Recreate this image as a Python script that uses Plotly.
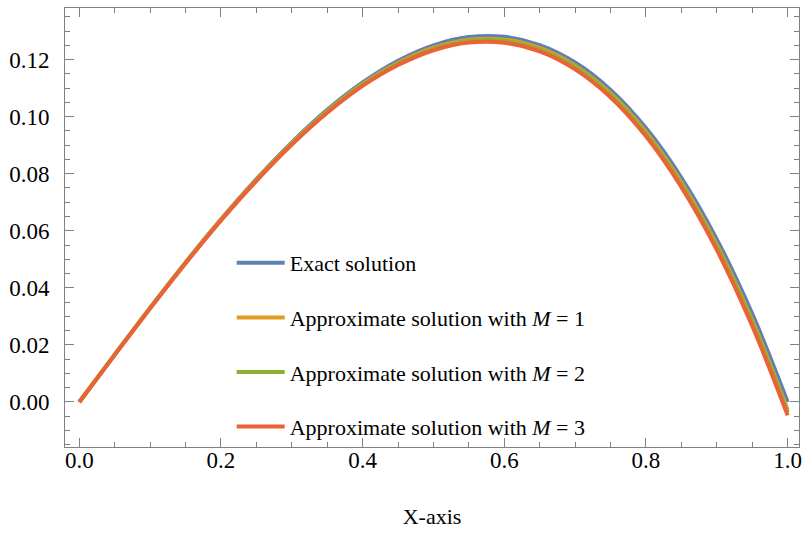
import plotly.graph_objects as go

x_vals = [0.00, 0.05, 0.10, 0.15, 0.20, 0.25, 0.30, 0.35, 0.40, 0.45, 0.50,
          0.55, 0.60, 0.65, 0.70, 0.75, 0.80, 0.85, 0.90, 0.95, 1.00]
exact = [0.0000, 0.0166, 0.0330, 0.0489, 0.0640, 0.0781, 0.0910, 0.1024, 0.1120, 0.1196, 0.1250,
         0.1279, 0.1280, 0.1251, 0.1190, 0.1094, 0.0960, 0.0786, 0.0570, 0.0309, 0.0000]
approx_m1 = [0.0000, 0.0166, 0.0329, 0.0488, 0.0639, 0.0779, 0.0907, 0.1020, 0.1115, 0.1189, 0.1242,
             0.1270, 0.1270, 0.1241, 0.1179, 0.1082, 0.0946, 0.0770, 0.0551, 0.0286, -0.0028]
approx_m2 = [0.0000, 0.0166, 0.0329, 0.0487, 0.0638, 0.0777, 0.0905, 0.1018, 0.1112, 0.1186, 0.1238,
             0.1266, 0.1266, 0.1236, 0.1174, 0.1077, 0.0940, 0.0764, 0.0545, 0.0279, -0.0036]
approx_m3 = [0.0000, 0.0165, 0.0328, 0.0486, 0.0636, 0.0775, 0.0902, 0.1014, 0.1108, 0.1181, 0.1233,
             0.1260, 0.1259, 0.1229, 0.1166, 0.1068, 0.0931, 0.0753, 0.0533, 0.0266, -0.0047]

names = ["Exact solution",
         "Approximate solution with <i>M</i> = 1",
         "Approximate solution with <i>M</i> = 2",
         "Approximate solution with <i>M</i> = 3"]
colors = ["#5E81B5", "#E19C24", "#8FB032", "#EB6235"]
series = [exact, approx_m1, approx_m2, approx_m3]

x_ticks = [0.0, 0.2, 0.4, 0.6, 0.8, 1.0]
x_ticklabels = ["0.0", "0.2", "0.4", "0.6", "0.8", "1.0"]
y_ticks = [0.00, 0.02, 0.04, 0.06, 0.08, 0.10, 0.12]
y_ticklabels = ["0.00", "0.02", "0.04", "0.06", "0.08", "0.10", "0.12"]

fig = go.Figure()
for i, (nm, col, ys) in enumerate(zip(names, colors, series)):
    fig.add_trace(go.Scatter(x=x_vals, y=ys, mode="lines", name=nm,
                             line=dict(color=col, width=4, shape="spline", smoothing=1.0),
                             legendgroup=f"g{i}"))

font = "Liberation Serif, Times New Roman, serif"
axis_common = dict(showline=True, linecolor="#808080", linewidth=1, mirror="ticks",
                   ticks="inside", ticklen=9, tickcolor="#808080", tickwidth=1,
                   showgrid=False, zeroline=False, automargin=False,
                   tickfont=dict(family=font, size=23, color="black"))

fig.update_xaxes(range=[-0.0202, 1.016], tickvals=x_ticks, ticktext=x_ticklabels,
                 minor=dict(dtick=0.05, tick0=0, ticks="inside", ticklen=5,
                            tickcolor="#808080", showgrid=False),
                 title=dict(text="X-axis", font=dict(family=font, size=22, color="black"),
                            standoff=37),
                 ticklabelstandoff=-8, **axis_common)
fig.update_yaxes(range=[-0.0158, 0.1381], tickvals=y_ticks, ticktext=y_ticklabels,
                 minor=dict(dtick=0.005, tick0=0, ticks="inside", ticklen=5,
                            tickcolor="#808080", showgrid=False),
                 ticklabelstandoff=10, **axis_common)

fig.update_layout(
    width=805, height=545,
    margin=dict(l=65, r=6, t=8, b=98),
    plot_bgcolor="white", paper_bgcolor="white",
    legend=dict(x=0.2271, y=0.467, xanchor="left", yanchor="top",
                bgcolor="rgba(0,0,0,0)", tracegroupgap=23,
                font=dict(family=font, size=22, color="black"),
                itemwidth=48),
    showlegend=True,
)

fig.write_html("out.html",
               config={"displayModeBar": False},
               post_script="document.body.style.margin='0';document.body.style.overflow='hidden';")
